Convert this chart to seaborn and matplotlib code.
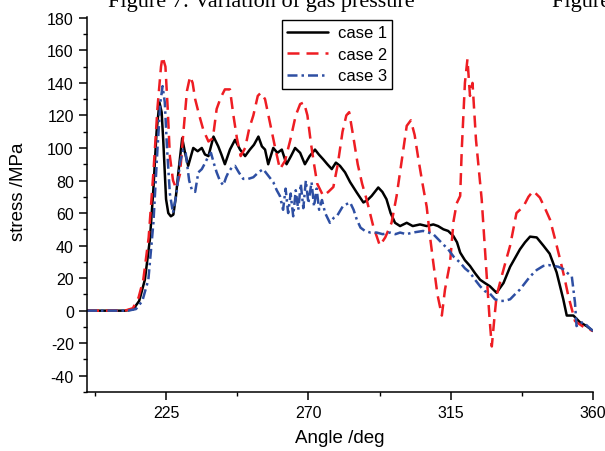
import matplotlib
matplotlib.use("Agg")
import numpy as np
import pandas as pd
import seaborn as sns
import matplotlib.pyplot as plt
from matplotlib.ticker import MultipleLocator

# ---------------- data ----------------
case_names = ["case 1", "case 2", "case 3"]

angle_1 = [200, 212, 214.6, 216.5, 218.3, 219.9, 221, 222, 222.9, 223.6, 224.1, 225, 225.7, 226.5,
           227.3, 228.1, 228.9, 230.1, 231, 232, 233.6, 235, 236.3, 237.3, 238.4, 240, 241.5, 242.5,
           243.6, 245.2, 246.8, 248.4, 250, 251.5, 252.8, 254.2, 255.3, 256.3, 257.3, 258.9, 260.2,
           261.6, 263.1, 264.5, 265.8, 267.4, 268.9, 270.4, 272.1, 273.3, 274.7, 276, 277.4, 278.7,
           280, 281.6, 283.2, 285.3, 287.4, 288.7, 290, 292.1, 293.4, 294.7, 296, 297.4, 299, 301.1,
           303, 305.3, 307.4, 309.5, 311, 312.7, 314.2, 315.8, 317, 318, 319.5, 321.1, 322.7, 324.3,
           325.8, 327.4, 329.5, 331.7, 333.8, 336.9, 338.5, 340.1, 342.2, 344.3, 346.3, 348.5, 350.6,
           351.7, 353.8, 355.8, 358, 360]
stress_1 = [0, 0, 0.8, 6, 19, 44, 75, 110, 128, 122, 105, 68.5, 60, 58,
            59, 70, 85, 106, 97, 89, 100, 98, 100, 96, 95, 107, 101, 96,
            90, 99, 105, 99, 95, 99, 102, 107, 101, 99, 90, 100, 97,
            99, 90, 95, 100, 97, 90, 95, 99, 96, 93, 90, 87, 91,
            89, 85, 79, 72.6, 66.5, 68, 70.5, 75.7, 73, 68.5, 60, 54, 52, 54,
            52, 53, 52, 53, 52, 50, 49, 46, 42, 35.7, 31, 27.5, 23, 19,
            17, 15, 11, 17, 27, 37.7, 42, 45.5, 45, 40, 35, 23.5, 7,
            -3, -3, -7, -9.5, -12.5]

angle_2 = [200, 212, 214.5, 216.3, 217.8, 219.5, 221, 222.3, 223.4, 223.9, 224.8, 225.5, 226.2, 227.2,
           228.2, 229.4, 230.5, 231.6, 232.6, 233.4, 234.2, 235.5, 236.8, 238.4, 239.8, 241, 242.3,
           243.6, 245.2, 246.3, 247.4, 248.6, 250, 251.3, 252.6, 254, 255, 256.3, 257.8, 259.4, 261,
           262.6, 264.3, 266, 267.4, 268.6, 269.7, 270.8, 271.8, 272.8, 274.7, 276.3, 277.9, 279.3,
           280.8, 282, 282.9, 284.2, 285.6, 287, 288.4, 290.5, 292.6, 294.3, 296.3, 297.9, 299.5,
           301.1, 302.4, 303.6, 304.8, 306.1, 307.4, 308.5, 309.5, 310.8, 312.2, 313.2, 314.8, 315.9,
           316.9, 318, 318.5, 319.5, 320.3, 321.1, 321.9, 323, 324.8, 326.4, 327.3, 328, 328.8, 329.5,
           331.1, 332.5, 333.8, 335.8, 338, 339.6, 341.1, 343.2, 344.8, 346.4, 348, 349.6, 351, 352.2,
           354.3, 357, 360]
stress_2 = [0, 0, 1.5, 8, 19, 45, 85, 125, 150, 156, 150, 125, 95, 80,
            75, 84, 110, 135, 144, 140, 130, 120, 111, 104, 106, 124, 131,
            136, 136, 120, 106, 95, 100, 112, 120, 132, 134, 130, 116, 101, 87,
            92, 105, 120, 127, 128, 120, 103, 90, 78, 70.5, 73, 76, 90,
            110, 120, 122, 107, 90, 78, 68.5, 52, 40, 45, 54, 70.5, 92,
            113.6, 117, 108, 93, 78, 64, 45, 29.5, 10, -3, 13, 29.5, 55,
            66, 70.5, 99, 140, 154.6, 132, 140, 105, 68.5, 21, -5, -22, -5, 9,
            21, 31, 40, 60, 64, 70, 73.6, 69.5, 63, 56, 44, 31.5, 20, 9,
            -6.4, -10, -12.5]

angle_3 = [200, 213, 215.5, 217.5, 219.4, 221, 222.3, 223.2, 223.9, 224.6, 225.3, 226.2, 227.2, 228.3,
           229.4, 230.4, 231.2, 232.3, 233.2, 234.2, 235.2, 236.3, 237.4, 238.4, 239.2, 240.2, 241,
           242, 243.1, 244, 244.7, 245.8, 246.8, 248, 249.4, 251, 252.6, 254.2, 255.7, 257.3, 258.9,
           260, 261, 262, 262.8, 263.6, 264.4, 265.2, 266, 266.8, 267.6, 268.4, 269.2, 270, 271,
           271.8, 272.6, 273.4, 274.3, 275.3, 276.8, 278, 279, 281, 283.2, 284.3, 285.3, 286.5, 287.9,
           289.6, 291.6, 293.5, 295.8, 297.5, 299, 301, 303, 306.3, 308, 309.5, 311, 312.5, 314.2,
           316, 318, 319.5, 321.1, 322.7, 324.3, 325.8, 327.4, 329, 330.6, 332, 333.8, 335.3, 336.9,
           338.5, 340.1, 342.2, 344.3, 346, 347.5, 349, 350.6, 352, 353.3, 354.3, 354.8, 355.5, 357,
           358.5, 360]
stress_3 = [0, 0, 1, 6, 19, 54, 100, 128, 138, 128, 100, 72, 60, 72,
            91, 99, 97, 80, 74, 73, 85, 87, 91, 95, 97, 90, 85,
            80, 77, 82, 85, 88, 89, 85, 81, 81, 82, 85, 87, 83, 79,
            74, 70.5, 62, 75, 60, 72, 58, 74, 62, 78, 63, 80, 66, 79,
            64, 75, 62, 68, 60, 54, 57, 58, 64.5, 66.5, 62, 56, 51, 49,
            48, 48, 47, 48, 47, 48, 47, 48, 49, 48, 47, 44, 41, 37.7,
            33, 29.5, 26, 23.4, 19, 15, 12, 10.5, 7, 6, 6, 7, 10, 13,
            17, 21, 25, 27.5, 28, 27.5, 27, 25.5, 23, 21, 5, -9.5, -8, -7,
            -10, -12.5]

x_major_ticks = [225, 270, 315, 360]
y_major_ticks = [-40, -20, 0, 20, 40, 60, 80, 100, 120, 140, 160, 180]

# ---------------- styling ----------------
sns.set_theme(style="ticks")
plt.rcParams["font.family"] = ["Liberation Sans", "DejaVu Sans"]
plt.rcParams["axes.unicode_minus"] = False

W, H = 605, 452
fig = plt.figure(figsize=(W / 100, H / 100), dpi=100)
fig.patch.set_facecolor("white")
ax = fig.add_axes([87 / W, 1 - 393 / H, 506 / W, 375 / H])

frames = []
for name, xs, ys in zip(case_names, [angle_1, angle_2, angle_3], [stress_1, stress_2, stress_3]):
    frames.append(pd.DataFrame({"angle": xs, "stress": ys, "case": name}))
df = pd.concat(frames, ignore_index=True)

colors = {"case 1": "#000000", "case 2": "#EE1D23", "case 3": "#2E4FA3"}
lstyles = {"case 1": "-", "case 2": (0, (4.8, 2.8)), "case 3": (0, (4.0, 1.6, 1.0, 1.6))}
lwidths = {"case 1": 1.8, "case 2": 1.8, "case 3": 1.8}

for name in case_names:
    sub = df[df["case"] == name]
    sns.lineplot(data=sub, x="angle", y="stress", ax=ax, color=colors[name],
                 linewidth=lwidths[name], linestyle=lstyles[name], label=name,
                 estimator=None, sort=False)

ax.set_xlim(200, 360)
ax.set_ylim(-50, 180.5)
ax.set_xticks(x_major_ticks)
ax.set_yticks(y_major_ticks)
ax.xaxis.set_minor_locator(MultipleLocator(22.5))
ax.yaxis.set_minor_locator(MultipleLocator(10))

sns.despine(ax=ax)
for side in ["left", "bottom"]:
    ax.spines[side].set_color("black")
    ax.spines[side].set_linewidth(1.1)

ax.tick_params(axis="both", which="major", direction="out", length=5.5, width=1.1,
               color="black", labelcolor="black", labelsize=11.5)
ax.tick_params(axis="both", which="minor", direction="out", length=3, width=1.0, color="black")
ax.tick_params(axis="y", which="major", pad=4)
ax.tick_params(axis="x", which="major", pad=4)

ax.set_xlabel("Angle /deg", fontsize=13.5, color="black")
ax.set_ylabel("stress /MPa", fontsize=13.5, color="black")
ax.xaxis.set_label_coords(0.5, (393 - 430) / 375)
ax.yaxis.set_label_coords((27 - 87) / 506, (393 - 191.5) / 375)

leg = ax.legend(loc="upper left", bbox_to_anchor=(282 / W, 1 - 21 / H),
                bbox_transform=fig.transFigure, borderaxespad=0, fontsize=12,
                frameon=True, fancybox=False, shadow=False, framealpha=1,
                edgecolor="black", handlelength=2.46, handletextpad=0.55,
                labelspacing=0.39, borderpad=0.32)
leg.get_frame().set_linewidth(1.0)
for t in leg.get_texts():
    t.set_color("black")

# background document caption, cut by the top edge of the picture
cap1 = fig.text(108 / W, 1 - 7.5 / H, "Figure 7: Variation of gas pressure",
                family=["Liberation Serif", "DejaVu Serif"], fontsize=14,
                va="baseline", ha="left", color="black")
fig.canvas.draw()
bb = cap1.get_window_extent()
scale = 309 / bb.width
cap1.set_fontsize(14 * scale)
fig.text(552 / W, 1 - 7.5 / H, "Figure 8",
         family=["Liberation Serif", "DejaVu Serif"], fontsize=14 * scale,
         va="baseline", ha="left", color="black")

fig.savefig("out.png", dpi=100, facecolor="white")
